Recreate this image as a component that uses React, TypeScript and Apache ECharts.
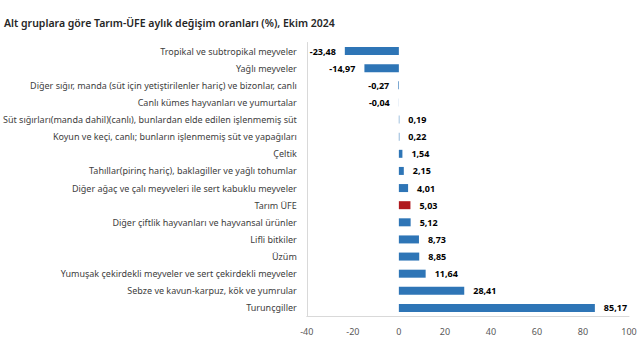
import React, { useEffect, useRef } from "react";
import * as echarts from "echarts";

const categories = [
  "Tropikal ve subtropikal meyveler",
  "Yağlı meyveler",
  "Diğer sığır, manda (süt için yetiştirilenler hariç) ve bizonlar, canlı",
  "Canlı kümes hayvanları ve yumurtalar",
  "Süt sığırları(manda dahil)(canlı), bunlardan elde edilen işlenmemiş süt",
  "Koyun ve keçi, canlı; bunların işlenmemiş süt ve yapağıları",
  "Çeltik",
  "Tahıllar(pirinç hariç), baklagiller ve yağlı tohumlar",
  "Diğer ağaç ve çalı meyveleri ile sert kabuklu meyveler",
  "Tarım ÜFE",
  "Diğer çiftlik hayvanları ve hayvansal ürünler",
  "Lifli bitkiler",
  "Üzüm",
  "Yumuşak çekirdekli meyveler ve sert çekirdekli meyveler",
  "Sebze ve kavun-karpuz, kök ve yumrular",
  "Turunçgiller",
];

const values = [
  -23.48, -14.97, -0.27, -0.04, 0.19, 0.22, 1.54, 2.15, 4.01, 5.03, 5.12, 8.73,
  8.85, 11.64, 28.41, 85.17,
];

const highlightCategory = "Tarım ÜFE";

const xMin = -40;
const xMax = 100;
const xInterval = 20;

const FONT = "'Noto Sans', sans-serif";

export default function App() {
  const ref = useRef<HTMLDivElement>(null);

  useEffect(() => {
    if (!ref.current) return;
    const chart = echarts.init(ref.current, undefined, { renderer: "svg" });
    chart.setOption({
      animation: false,
      backgroundColor: "#ffffff",
      title: {
        text: "Alt gruplara göre Tarım-ÜFE aylık değişim oranları (%), Ekim 2024",
        left: -1,
        top: 12,
        textStyle: {
          fontFamily: FONT,
          fontSize: 10.5,
          fontWeight: 600,
          color: "#262626",
        },
      },
      grid: {
        left: 306,
        right: 11,
        top: 42.5,
        bottom: 43.5,
        containLabel: false,
      },
      xAxis: {
        type: "value",
        min: xMin,
        max: xMax,
        interval: xInterval,
        axisLine: { show: true, onZero: false, lineStyle: { color: "#d9d9d9" } },
        axisTick: { show: false },
        splitLine: { show: false },
        axisLabel: {
          fontFamily: FONT,
          fontSize: 9,
          color: "#595959",
          margin: 10,
        },
      },
      yAxis: {
        type: "category",
        data: categories,
        inverse: true,
        axisLine: { show: true, onZero: false, lineStyle: { color: "#d9d9d9" } },
        axisTick: { show: false },
        axisLabel: {
          fontFamily: FONT,
          fontSize: 9,
          color: "#404040",
          margin: 10,
        },
      },
      series: [
        {
          type: "bar",
          barWidth: 8,
          data: values.map((v, i) => ({
            value: v,
            itemStyle: {
              color: categories[i] === highlightCategory ? "#B0191E" : "#2E75B6",
            },
            label: { position: v < 0 ? "left" : "right" },
          })),
          label: {
            show: true,
            distance: 9,
            fontFamily: FONT,
            fontSize: 9,
            fontWeight: "bold",
            color: "#000000",
            formatter: (p: any) => String(p.value.toFixed(2)).replace(".", ","),
          },
        },
      ],
    });
    return () => chart.dispose();
  }, []);

  return (
    <div
      ref={ref}
      style={{ position: "fixed", left: 0, top: 0, width: 640, height: 360 }}
    />
  );
}
